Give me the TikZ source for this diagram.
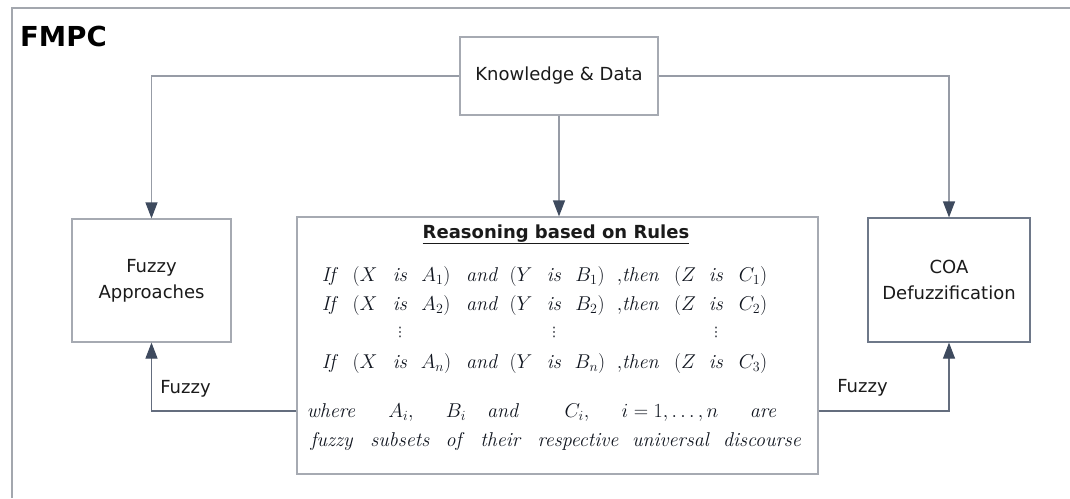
\RequirePackage{fix-cm}
\documentclass[tikz,border=0pt]{standalone}
\usepackage{fontspec}
\newfontfamily\tah{DejaVu Sans}
\usetikzlibrary{arrows.meta}
\definecolor{framecol}{HTML}{A3A7AE}
\definecolor{boxcol}{HTML}{A6AAB2}
\definecolor{coacol}{HTML}{6E7889}
\definecolor{linecol}{HTML}{979CA6}
\definecolor{darkline}{HTML}{646D7E}
\definecolor{tipcol}{HTML}{3E4A5E}
\definecolor{txt}{HTML}{1A1A1A}
\definecolor{mtxt}{HTML}{10151F}
\newcommand\myrow[5]{%
\foreach \x/\t [count=\i] in {330/\textit{If}, 365/$(X$, 400/\textit{is}, 436/$A_{#3})$, 482/\textit{and}, 521/$(Y$, 554/\textit{is}, 590/$B_{#4})$, 638/{$,$\textit{then}}, 685/$(Z$, 716/\textit{is}, 753/$C_{#5})$}
  \node[mt] (#1-\i) at (\x,#2) {\t};}
\begin{document}
\begin{tikzpicture}[x=1pt,y=-1pt,
  boxst/.style={draw=boxcol, line width=1.2pt, fill=white, inner sep=0pt, text=txt,
    font=\tah\fontsize{18}{26}\selectfont, align=center},
  lbl/.style={inner sep=0pt, text=txt, font=\tah\fontsize{18}{22}\selectfont},
  mt/.style={anchor=base, inner sep=0pt, text=mtxt, font=\fontsize{20}{22}\selectfont},
  dots/.style={inner sep=0pt, text=mtxt, font=\tah\fontsize{13}{14}\selectfont},
  conn/.style={draw=linecol, line width=1.2pt},
  dconn/.style={draw=darkline, line width=1.2pt},
  arr/.style={-{Triangle[length=16pt,width=12pt,color=tipcol]}}
]
\useasboundingbox (0,0) rectangle (1070,498);
\draw[framecol, line width=1.2pt] (12,498) -- (12,8) -- (1070,8);
\node[anchor=base west, inner sep=0pt, font=\tah\bfseries\fontsize{27.5}{30}\selectfont] (title) at (20,46) {FMPC};

\node[boxst, minimum width=198pt, minimum height=78pt] (kd) at (559,76) {Knowledge \& Data};
\node[boxst, minimum width=159pt, minimum height=123pt] (fa) at (151.5,280.5) {Fuzzy\\Approaches};
\node[boxst, minimum width=521pt, minimum height=257pt] (rr) at (557.5,345.5) {};
\node[boxst, draw=coacol, minimum width=162pt, minimum height=124pt] (coa) at (949,280) {COA\\Defuzzification};

\draw[conn, arr] (kd.west) -| (fa.north);
\draw[conn, arr] (kd.east) -| (coa.north);
\draw[conn, arr] (kd.south) -- (kd.south |- rr.north);
\coordinate (lo) at ([yshift=-65.5pt]rr.west);
\coordinate (ro) at ([yshift=-65.5pt]rr.east);
\draw[dconn, arr] (lo) -| (fa.south);
\draw[dconn, arr] (ro) -| (coa.south);
\node[lbl] (fl) at (185.5,389) {Fuzzy};
\node[lbl] (fr) at (862.5,388) {Fuzzy};

\node[anchor=base, inner sep=0pt, text=txt, font=\tah\bfseries\fontsize{18}{22}\selectfont] (rt) at (556,238) {\underline{Reasoning based on Rules}};

\myrow{ra}{281}{1}{1}{1}
\myrow{rb}{310}{2}{2}{2}
\myrow{rn}{368}{n}{n}{3}
\node[dots] (d1) at (400,332) {⋮};
\node[dots] (d2) at (554,332) {⋮};
\node[dots] (d3) at (716,332) {⋮};

\foreach \x/\t [count=\i] in {331/\textit{where}, 401/{$A_i,$}, 456/$B_i$, 503/\textit{and}, 577/{$C_i,$}, 670/{$i=1,\dots,n$}, 763/\textit{are}}
  \node[mt] (w-\i) at (\x,417) {\t};
\foreach \x/\t [count=\i] in {332/\textit{fuzzy}, 400/\textit{subsets}, 455/\textit{of}, 501/\textit{their}, 578/\textit{respective}, 671/\textit{universal}, 762/\textit{discourse}}
  \node[mt] (f-\i) at (\x,446) {\t};
\end{tikzpicture}
\end{document}
